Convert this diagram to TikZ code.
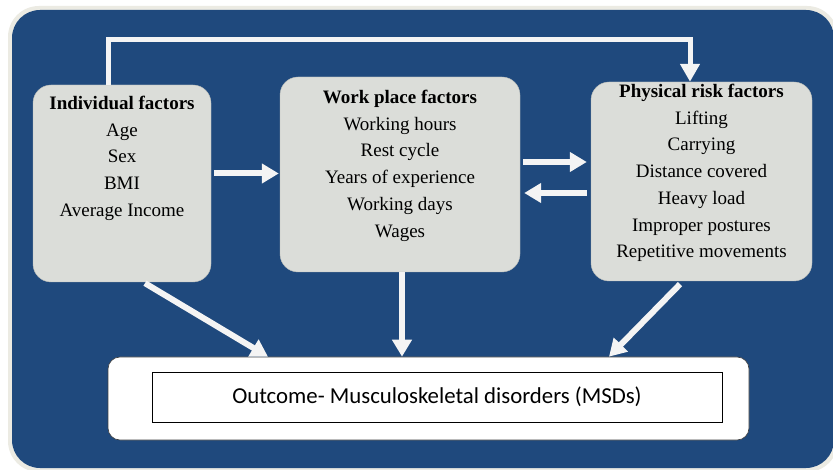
\documentclass[tikz,border=0pt]{standalone}
\usepackage{fontspec}
\setmainfont{Liberation Serif}
\newfontfamily\outfont{Carlito}
\usetikzlibrary{arrows.meta}
\definecolor{bgblue}{HTML}{1F497D}
\definecolor{boxgray}{HTML}{DBDDD9}
\definecolor{creamedge}{HTML}{ECEBE3}
\definecolor{arrowwhite}{HTML}{F4F4F4}
\tikzset{
  factorbox/.style={fill=boxgray, draw=boxgray!85!black, line width=0.4pt, rounded corners=18pt, inner sep=0pt},
  factortext/.style={anchor=north, inner sep=0pt, align=center, font=\fontsize{19}{26.7}\selectfont, text=black},
  arr/.style={draw=arrowwhite, line width=6pt, -{Triangle[width=19pt,length=17pt]}},
  toparr/.style={draw=arrowwhite, line width=5pt, -{Triangle[width=19pt,length=18pt]}}
}
\begin{document}
\begin{tikzpicture}[x=1pt,y=-1pt]
\useasboundingbox (0,0) rectangle (833,470);
\fill[white] (0,0) rectangle (833,470);
\fill[creamedge, rounded corners=31pt] (8,6) rectangle (838,472);
\fill[bgblue, rounded corners=28pt] (12,10) rectangle (834,468);

% factor boxes
\node[factorbox, minimum width=178pt, minimum height=197pt] (ind) at (122,183.5) {};
\node[factorbox, minimum width=240pt, minimum height=195pt] (work) at (400,174.5) {};
\node[factorbox, minimum width=221pt, minimum height=199pt] (phys) at (701.5,181.5) {};

\node[factortext] (indtxt) at (122,96) {\textbf{Individual factors}\\Age\\Sex\\BMI\\Average Income};
\node[factortext] (worktxt) at (400,90) {\textbf{Work place factors}\\Working hours\\Rest cycle\\Years of experience\\Working days\\Wages};
\node[factortext] (phystxt) at (701.5,84) {\textbf{Physical risk factors}\\Lifting\\Carrying\\Distance covered\\Heavy load\\Improper postures\\Repetitive movements};

% outcome
\node[fill=white, draw=black!75, line width=0.6pt, rounded corners=12pt, minimum width=641pt, minimum height=83pt, inner sep=0pt] (out) at (428.5,398.5) {};
\node[fill=white, draw=black, line width=0.8pt, minimum width=570pt, minimum height=50pt, inner sep=0pt, font=\outfont\fontsize{22.8}{27}\selectfont] (outtxt) at (437,397) {Outcome- Musculoskeletal disorders (MSDs)};

% connectors
\coordinate (topline) at (400,40);
\draw[toparr] ([xshift=-14pt]ind.north) |- (topline) -| ([xshift=-11.5pt]phys.north);
\draw[arr] ([xshift=3pt,yshift=10pt]ind.east) -- ([xshift=-1pt,yshift=1pt]work.west);
\draw[arr] ([xshift=3pt,yshift=12.5pt]work.east) -- ([xshift=-4pt,yshift=19.5pt]phys.west);
\draw[arr] ([xshift=-4pt,yshift=-11.5pt]phys.west) -- ([xshift=4pt,yshift=-18.5pt]work.east);
\draw[arr] ([xshift=23pt,yshift=-1pt]ind.south) -- ([xshift=-160.5pt]out.north);
\draw[arr] ([xshift=2pt]work.south) -- ([xshift=-26.5pt]out.north);
\draw[arr] ([xshift=-21.5pt,yshift=-3pt]phys.south) -- ([xshift=180.5pt]out.north);
\end{tikzpicture}
\end{document}
